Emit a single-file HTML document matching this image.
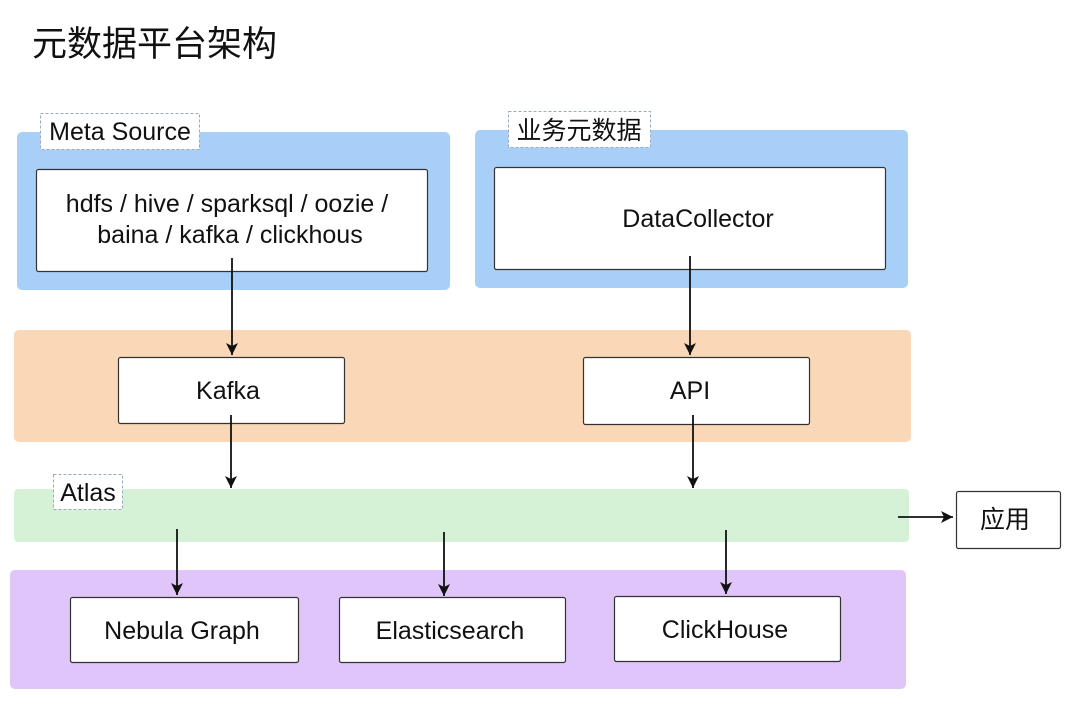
<!DOCTYPE html>
<html><head><meta charset="utf-8"><style>
html,body{margin:0;padding:0;background:#fff;}
svg{display:block;}
text{font-family:"Liberation Sans","Noto Sans CJK SC",sans-serif;fill:#111;}
</style></head><body>
<svg width="1080" height="710" viewBox="0 0 1080 710" xmlns="http://www.w3.org/2000/svg">
<defs><marker id="a" markerWidth="14" markerHeight="14" refX="12" refY="6" orient="auto" markerUnits="userSpaceOnUse"><path d="M0,0 L12,6 L0,12 L3,6 z" fill="#111"/></marker></defs>
<text x="32" y="56" font-size="35">元数据平台架构</text>

<rect x="17" y="132" width="433" height="158" rx="5" fill="#a8cff8"/>
<rect x="475" y="130" width="433" height="158" rx="5" fill="#a8cff8"/>
<rect x="14" y="330" width="897" height="112" rx="5" fill="#fad7b7"/>
<rect x="14" y="489" width="895" height="53" rx="4" fill="#d5f2d6"/>
<rect x="10" y="570" width="896" height="119" rx="5" fill="#e0c5fb"/>

<rect x="40.5" y="113.5" width="159" height="36" fill="#fff" stroke="#9ab" stroke-dasharray="3,2"/>
<text x="120" y="140" font-size="25" text-anchor="middle">Meta Source</text>
<rect x="508.5" y="111.5" width="142" height="36" fill="#fff" stroke="#9ab" stroke-dasharray="3,2"/>
<text x="579" y="139" font-size="25" text-anchor="middle">业务元数据</text>
<rect x="53.5" y="474.5" width="69" height="35" fill="#fff" stroke="#9ab" stroke-dasharray="3,2"/>
<text x="88" y="501" font-size="25" text-anchor="middle">Atlas</text>

<g fill="#fff" stroke="#333" stroke-width="1.2">
<rect x="36.5" y="169.5" width="391" height="102" rx="2"/>
<rect x="494.5" y="167.5" width="391" height="102" rx="2"/>
<rect x="118.5" y="357.5" width="226" height="66" rx="2"/>
<rect x="583.5" y="357.5" width="226" height="67" rx="2"/>
<rect x="70.5" y="597.5" width="228" height="65" rx="2"/>
<rect x="339.5" y="597.5" width="226" height="65" rx="2"/>
<rect x="614.5" y="596.5" width="226" height="65" rx="2"/>
<rect x="956.5" y="491.5" width="104" height="57" rx="2"/>
</g>
<text x="227" y="212" font-size="25" text-anchor="middle">hdfs / hive / sparksql / oozie /</text>
<text x="230" y="243" font-size="25" text-anchor="middle">baina / kafka / clickhous</text>
<text x="698" y="227" font-size="25" text-anchor="middle">DataCollector</text>
<text x="228" y="399" font-size="25" text-anchor="middle">Kafka</text>
<text x="690" y="399" font-size="25" text-anchor="middle">API</text>
<text x="182" y="639" font-size="25" text-anchor="middle">Nebula Graph</text>
<text x="450" y="639" font-size="25" text-anchor="middle">Elasticsearch</text>
<text x="725" y="638" font-size="25" text-anchor="middle">ClickHouse</text>
<text x="1005" y="528" font-size="25" text-anchor="middle">应用</text>

<g stroke="#111" stroke-width="1.8" marker-end="url(#a)">
<line x1="232" y1="258" x2="232" y2="355"/>
<line x1="690" y1="256" x2="690" y2="355"/>
<line x1="231" y1="415" x2="231" y2="488"/>
<line x1="693" y1="415" x2="693" y2="488"/>
<line x1="177" y1="529" x2="177" y2="595"/>
<line x1="444" y1="532" x2="444" y2="596"/>
<line x1="726" y1="530" x2="726" y2="594"/>
<line x1="898" y1="517" x2="953" y2="517"/>
</g>
</svg>
</body></html>
